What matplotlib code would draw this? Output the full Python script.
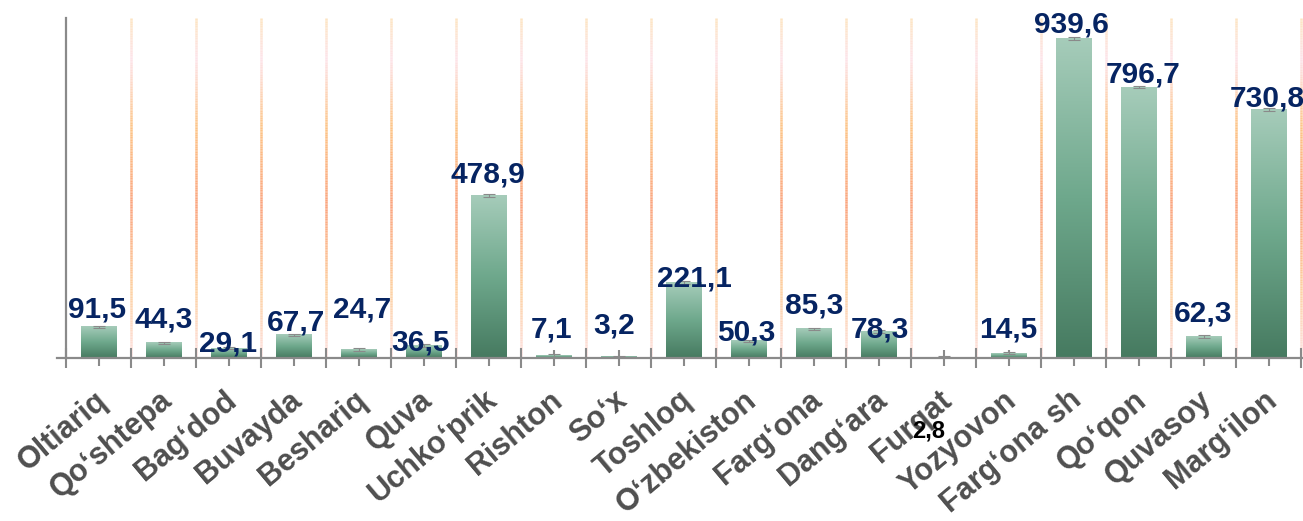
import numpy as np
import matplotlib
matplotlib.use("Agg")
import matplotlib.pyplot as plt
from matplotlib.colors import LinearSegmentedColormap
from matplotlib.collections import LineCollection
from matplotlib.transforms import ScaledTranslation

plt.rcParams["font.family"] = ["Liberation Sans", "DejaVu Sans"]

districts = [
    "Oltiariq", "Qo‘shtepa", "Bag‘dod", "Buvayda", "Beshariq", "Quva",
    "Uchko‘prik", "Rishton", "So‘x", "Toshloq", "O‘zbekiston", "Farg‘ona",
    "Dang‘ara", "Furqat", "Yozyovon", "Farg‘ona sh", "Qo‘qon", "Quvasoy",
    "Marg‘ilon",
]
values = [91.5, 44.3, 29.1, 67.7, 24.7, 36.5, 478.9, 7.1, 3.2, 221.1,
          50.3, 85.3, 78.3, 2.8, 14.5, 939.6, 796.7, 62.3, 730.8]
errors = [4] * len(values)

# hand-placed data labels: pixel offsets (dx, dy of baseline above bar top)
label_dx = [-2, 0, -1, 2, 4, -3, -1, -2, -4, 11, -2, 1, 1, -15, 0, -2, 5, 0, -1]
label_dy = [9, 15, -3, 4, 32, -5, 13, 18, 23, -4, 0, 15, -6, -80, 16, 6, 5, 15, 3]
label_colors = ["#062462"] * len(values)
label_colors[13] = "#000000"

bar_cmap = LinearSegmentedColormap.from_list(
    "bar", ["#467a60", "#6ea88c", "#a6ccba"])
grid_cmap = LinearSegmentedColormap.from_list(
    "grid", [(0.0, "#fde0e0"), (0.2, "#fdd0a0"), (0.45, "#fba47e"),
             (0.68, "#fdc486"), (0.88, "#fde3ea"), (1.0, "#fde4c0")])

fig = plt.figure(figsize=(13.03, 5.21), dpi=100)
ax = fig.add_axes([57 / 1303, 163 / 521, 1246 / 1303, 340 / 521])

n = len(values)
centers = np.arange(n) + 0.5
bar_w = 0.54
ymax = 1000

# gradient vertical separators between districts
ys = np.linspace(0, ymax, 200)
for k in range(1, n + 1):
    segs = [[(k, ys[j]), (k, ys[j + 1])] for j in range(len(ys) - 1)]
    lc = LineCollection(segs, colors=grid_cmap(ys[:-1] / ymax),
                        linewidths=1.8, zorder=1)
    ax.add_collection(lc)

# bars with a top-to-bottom gradient fill
grad = np.linspace(0, 1, 256).reshape(-1, 1)
for c, v in zip(centers, values):
    ax.imshow(grad, extent=[c - bar_w / 2, c + bar_w / 2, 0, v],
              aspect="auto", cmap=bar_cmap, origin="lower", zorder=2,
              interpolation="bilinear")

ax.errorbar(centers, values, yerr=errors, fmt="none", ecolor="#8a8a8a",
            elinewidth=0.8, capsize=4, capthick=0.8, zorder=3)

for i, (c, v) in enumerate(zip(centers, values)):
    ax.annotate(f"{v:.1f}".replace(".", ","), xy=(c, v),
                xytext=(label_dx[i], label_dy[i]), textcoords="offset pixels",
                ha="center", va="baseline", fontsize=21.5 if i != 13 else 17,
                fontweight="bold", color=label_colors[i], zorder=5)

ax.set_xlim(-0.14, n + 0.03)
ax.set_ylim(0, ymax)

for side in ["top", "right"]:
    ax.spines[side].set_visible(False)
ax.spines["left"].set_position(("data", 0))
for side in ["left", "bottom"]:
    ax.spines[side].set_color("#8a8a8a")
    ax.spines[side].set_linewidth(1.6)
ax.spines["bottom"].set_zorder(4)

ax.set_yticks([])
ax.set_xticks(np.arange(n + 1))
ax.set_xticklabels([])
ax.set_xticks(centers, minor=True)
ax.set_xticklabels(districts, minor=True, rotation=40, ha="right",
                   rotation_mode="anchor", fontsize=22, fontweight="bold",
                   color="#4f4f4f")
ax.tick_params(axis="x", which="major", direction="inout", length=14,
               width=1.5, color="#8a8a8a")
ax.tick_params(axis="x", which="minor", direction="inout", length=11,
               width=1.5, color="#8a8a8a", pad=14)

shift = ScaledTranslation(-5 / 100, 0, fig.dpi_scale_trans)
for lbl in ax.get_xticklabels(minor=True):
    lbl.set_transform(lbl.get_transform() + shift)

fig.savefig("out.png", dpi=100)
